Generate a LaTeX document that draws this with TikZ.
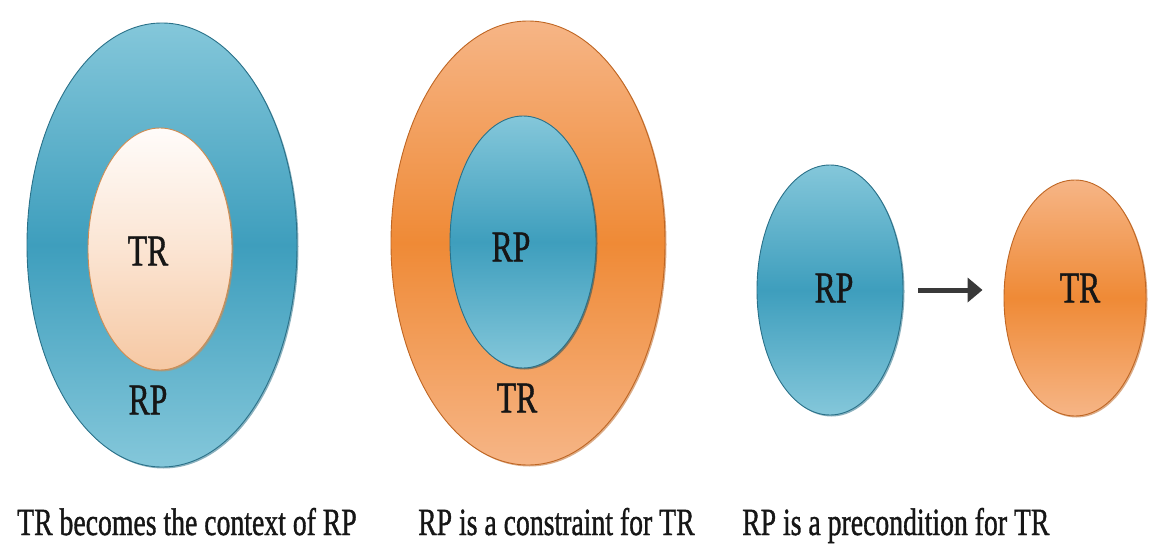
\documentclass[tikz,border=0pt]{standalone}
\usepackage{fontspec}
\setmainfont{Liberation Serif}[FakeBold=1.2]
\usetikzlibrary{shapes.geometric,arrows.meta}
\definecolor{blueLight}{HTML}{84C7DA}
\definecolor{blueMid}{HTML}{3E9EBD}
\definecolor{blueEdge}{HTML}{2A7189}
\definecolor{orangeLight}{HTML}{F6B586}
\definecolor{orangeMid}{HTML}{EF8A36}
\definecolor{orangeEdge}{HTML}{BF6623}
\definecolor{peachTop}{HTML}{FFFCFA}
\definecolor{peachBot}{HTML}{F6C8A3}
\definecolor{peachEdge}{HTML}{CF8C52}
\definecolor{ink}{HTML}{161616}
\newcommand{\narrow}[1]{\scalebox{0.72}[1]{#1}}
\tikzset{
  blob/.style={ellipse, inner sep=0pt, line width=0.9pt},
  blueblob/.style={blob, draw=blueEdge, top color=blueLight, bottom color=blueLight, middle color=blueMid},
  orangeblob/.style={blob, draw=orangeEdge, top color=orangeLight, bottom color=orangeLight, middle color=orangeMid},
  peachblob/.style={blob, draw=peachEdge, top color=peachTop, bottom color=peachBot, middle color=peachTop!55!peachBot},
  rim/.style={ellipse, inner sep=0pt, fill=#1, opacity=0.55},
  tag/.style={inner sep=0pt, text=ink, font=\fontsize{44}{44}\selectfont},
  caption/.style={inner sep=0pt, anchor=base west, text=ink, font=\fontsize{38.5}{38.5}\selectfont},
}
\begin{document}
\begin{tikzpicture}[x=1pt,y=-1pt]
\useasboundingbox[fill=white] (0,0) rectangle (1157,554);

% TR inside RP
\node[rim=blueEdge, minimum width=270pt, minimum height=444pt] (rpOuterRim) at (163.5,246.5) {};
\node[blueblob, minimum width=270pt, minimum height=444pt] (rpOuter) at (162,245) {};
\node[rim=peachEdge, minimum width=144pt, minimum height=242pt] (trInnerRim) at (161.5,250.5) {};
\node[peachblob, minimum width=144pt, minimum height=242pt] (trInner) at (160,249) {};
\node[tag] (trInnerTag) at (148,251) {\narrow{TR}};
\node[tag] (rpOuterTag) at (148,400) {\narrow{RP}};

% RP inside TR
\node[rim=orangeEdge, minimum width=274pt, minimum height=444pt] (trOuterRim) at (529.5,244.5) {};
\node[orangeblob, minimum width=274pt, minimum height=444pt] (trOuter) at (528,243) {};
\node[rim=blueEdge!70!black, minimum width=146pt, minimum height=252pt] (rpInnerRim) at (524.5,243.5) {};
\node[blueblob, minimum width=146pt, minimum height=252pt] (rpInner) at (523,242) {};
\node[tag] (rpInnerTag) at (511,247) {\narrow{RP}};
\node[tag] (trOuterTag) at (517,398) {\narrow{TR}};

% RP before TR
\node[rim=blueEdge, minimum width=146pt, minimum height=250pt] (rpPreRim) at (831.5,291.5) {};
\node[blueblob, minimum width=146pt, minimum height=250pt] (rpPre) at (830,290) {};
\node[rim=orangeEdge, minimum width=142pt, minimum height=236pt] (trPostRim) at (1076.5,299.5) {};
\node[orangeblob, minimum width=142pt, minimum height=236pt] (trPost) at (1075,298) {};
\node[tag] (rpPreTag) at (834,288) {\narrow{RP}};
\node[tag] (trPostTag) at (1080,288) {\narrow{TR}};
\draw[line width=5pt, draw=ink!85, -{Triangle[length=15pt,width=24pt]}, shorten <=15pt, shorten >=21pt]
  (rpPre.east) -- (rpPre.east -| trPost.west);

% captions
\node[caption] (capContext) at (17,535) {\narrow{TR becomes the context of RP}};
\node[caption] (capConstraint) at (418,535) {\narrow{RP is a constraint for TR}};
\node[caption] (capPrecondition) at (742,535) {\narrow{RP is a precondition for TR}};
\end{tikzpicture}
\end{document}
